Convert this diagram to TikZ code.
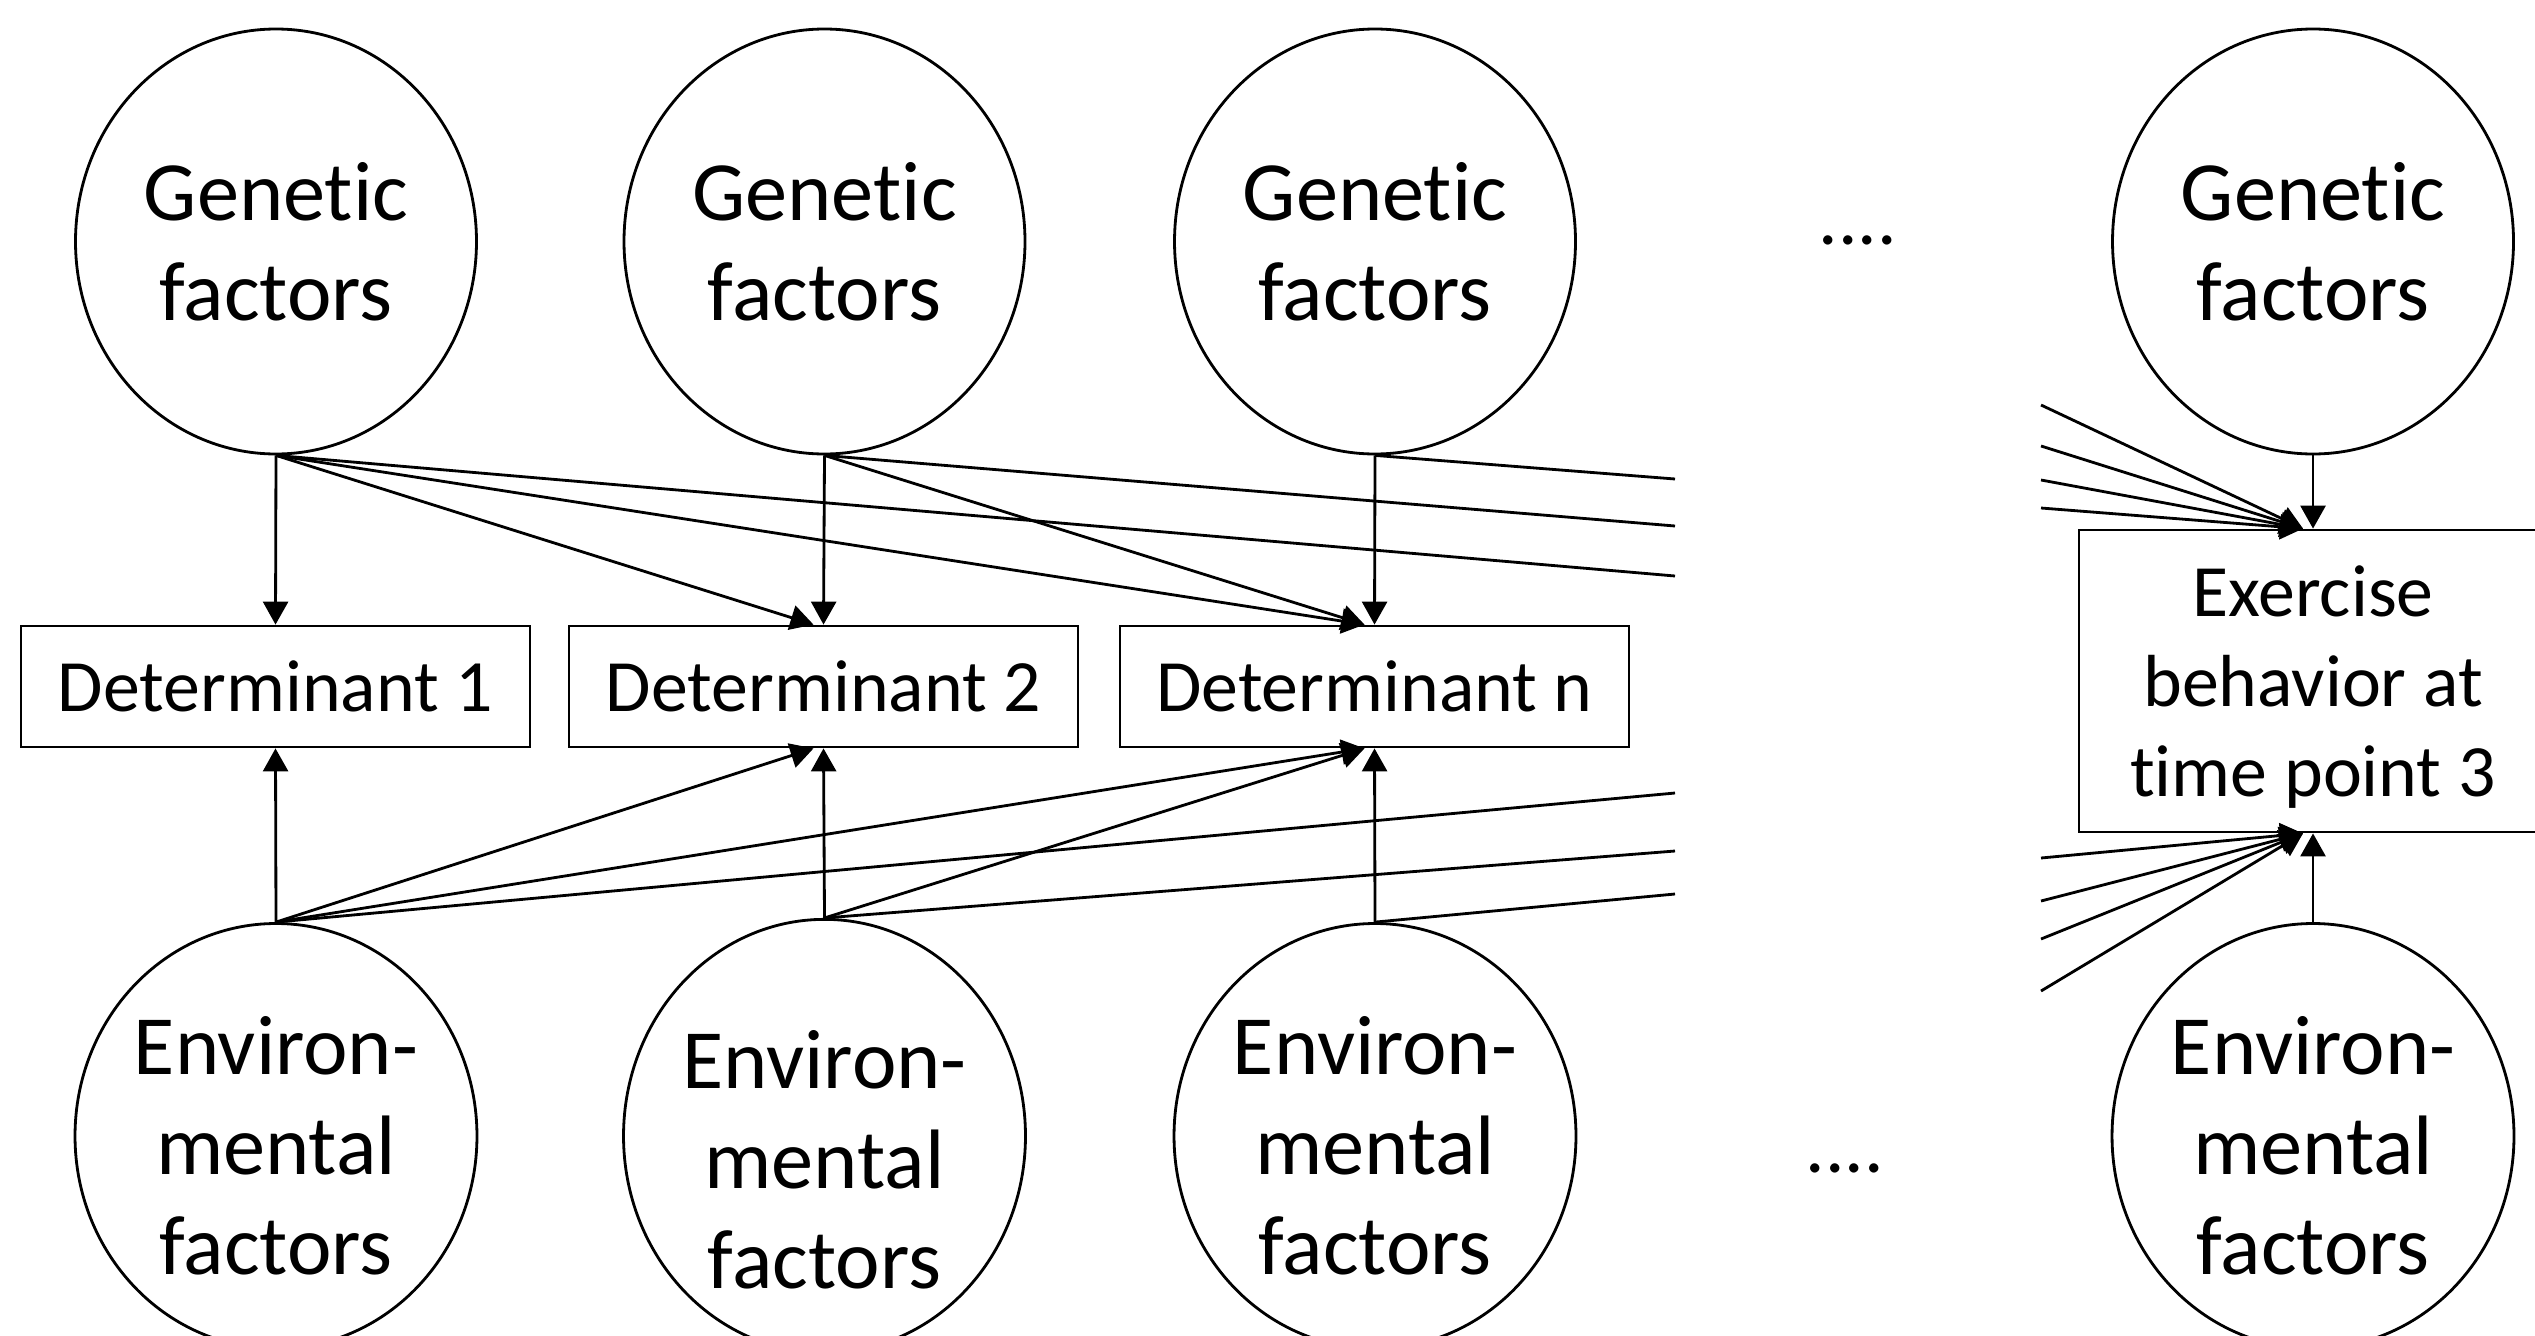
\documentclass[tikz,border=0pt]{standalone}
\usepackage{fontspec}
\setmainfont{Carlito}[Ligatures=NoCommon]
\usetikzlibrary{arrows.meta,shapes.geometric}

\begin{document}
\begin{tikzpicture}[
    factor/.style={
        ellipse, draw=black, line width=0.8pt,
        minimum width=4.01cm, minimum height=4.25cm,
        align=center, font=\fontsize{24}{28.5}\selectfont,
        inner sep=0pt
    },
    determ/.style={
        rectangle, draw=black, line width=0.8pt,
        minimum width=5.09cm, minimum height=1.21cm,
        align=center, font=\fontsize{21}{25.6}\selectfont
    },
    outcome/.style={
        rectangle, draw=black, line width=0.8pt,
        minimum width=4.68cm, minimum height=3.02cm,
        align=center, font=\fontsize{21}{25.6}\selectfont
    },
    etc/.style={anchor=base, font=\fontsize{22}{26}\selectfont},
    arr/.style={-{Triangle[length=2.3mm,width=2.5mm]}, line width=0.8pt},
    link/.style={line width=0.8pt}
]
\useasboundingbox (0,0) rectangle (25.35,13.35);

% --- Genetic factors (top row) ---
\node[factor] (gen1) at (2.76, 10.935) {Genetic\\factors};
\node[factor] (gen2) at (8.245, 10.935) {Genetic\\factors};
\node[factor] (gen3) at (13.75, 10.935) {Genetic\\factors};
\node[factor] (gen4) at (23.13, 10.935) {Genetic\\factors};
\node[etc] (gendots) at (18.58, 10.91) {....};

% --- Environmental factors (bottom row) ---
\node[factor] (env1) at (2.76, 1.99) {\rule{0pt}{22pt}Environ-\\mental\\factors};
\node[factor] (env2) at (8.245, 1.99) {\rule{0pt}{30pt}Environ-\\mental\\factors};
\node[factor] (env3) at (13.75, 1.99) {\rule{0pt}{22pt}Environ-\\mental\\factors};
\node[factor] (env4) at (23.13, 1.99) {\rule{0pt}{22pt}Environ-\\mental\\factors};
\node[etc] (envdots) at (18.45, 1.63) {....};

% --- Determinants ---
\node[determ] (det1) at (2.755, 6.485) {Determinant 1};
\node[determ] (det2) at (8.235, 6.485) {Determinant 2};
\node[determ] (detn) at (13.745, 6.485) {Determinant n};

% --- Outcome ---
\node[outcome] (exer) at (23.13, 6.54) {\rule{0pt}{18pt}Exercise\\behavior at\\time point 3};

% --- Cut ends of the long connectors ---
\coordinate (cutg1) at (16.75, 7.59);
\coordinate (cutg2) at (16.75, 8.09);
\coordinate (cutg3) at (16.75, 8.56);
\coordinate (cute1) at (16.75, 5.42);
\coordinate (cute2) at (16.75, 4.84);
\coordinate (cute3) at (16.75, 4.41);

\coordinate (ing1) at (20.41, 9.30);
\coordinate (ing2) at (20.41, 8.89);
\coordinate (ing3) at (20.41, 8.55);
\coordinate (ing4) at (20.41, 8.27);
\coordinate (ine1) at (20.41, 4.77);
\coordinate (ine2) at (20.41, 4.34);
\coordinate (ine3) at (20.41, 3.96);
\coordinate (ine4) at (20.41, 3.44);

% --- Arrows (Genetic -> Determinant) ---
\draw[arr] (gen1.south) -- (det1.north);
\draw[arr] (gen1.south) -- ([xshift=-1mm]det2.north);
\draw[arr] (gen1.south) -- ([xshift=-1mm]detn.north);
\draw[arr] (gen2.south) -- (det2.north);
\draw[arr] (gen2.south) -- ([xshift=-1mm]detn.north);
\draw[arr] (gen3.south) -- (detn.north);

% --- Arrows (Environmental -> Determinant) ---
\draw[arr] (env1.north) -- (det1.south);
\draw[arr] (env1.north) -- ([xshift=-1mm]det2.south);
\draw[arr] (env1.north) -- ([xshift=-1mm]detn.south);
\draw[arr] (env2.north) -- (det2.south);
\draw[arr] (env2.north) -- ([xshift=-1mm]detn.south);
\draw[arr] (env3.north) -- (detn.south);

% --- Long connectors, broken off ---
\draw[link] (gen1.south) -- (cutg1);
\draw[link] (gen2.south) -- (cutg2);
\draw[link] (gen3.south) -- (cutg3);
\draw[link] (env1.north) -- (cute1);
\draw[link] (env2.north) -- (cute2);
\draw[link] (env3.north) -- (cute3);

% --- Arrows into the outcome ---
\draw[arr] (gen4.south) -- (exer.north);
\draw[arr] (ing1) -- ([xshift=-1mm]exer.north);
\draw[arr] (ing2) -- ([xshift=-1mm]exer.north);
\draw[arr] (ing3) -- ([xshift=-1mm]exer.north);
\draw[arr] (ing4) -- ([xshift=-1mm]exer.north);
\draw[arr] (env4.north) -- (exer.south);
\draw[arr] (ine1) -- ([xshift=-1mm]exer.south);
\draw[arr] (ine2) -- ([xshift=-1mm]exer.south);
\draw[arr] (ine3) -- ([xshift=-1mm]exer.south);
\draw[arr] (ine4) -- ([xshift=-1mm]exer.south);

\end{tikzpicture}
\end{document}
